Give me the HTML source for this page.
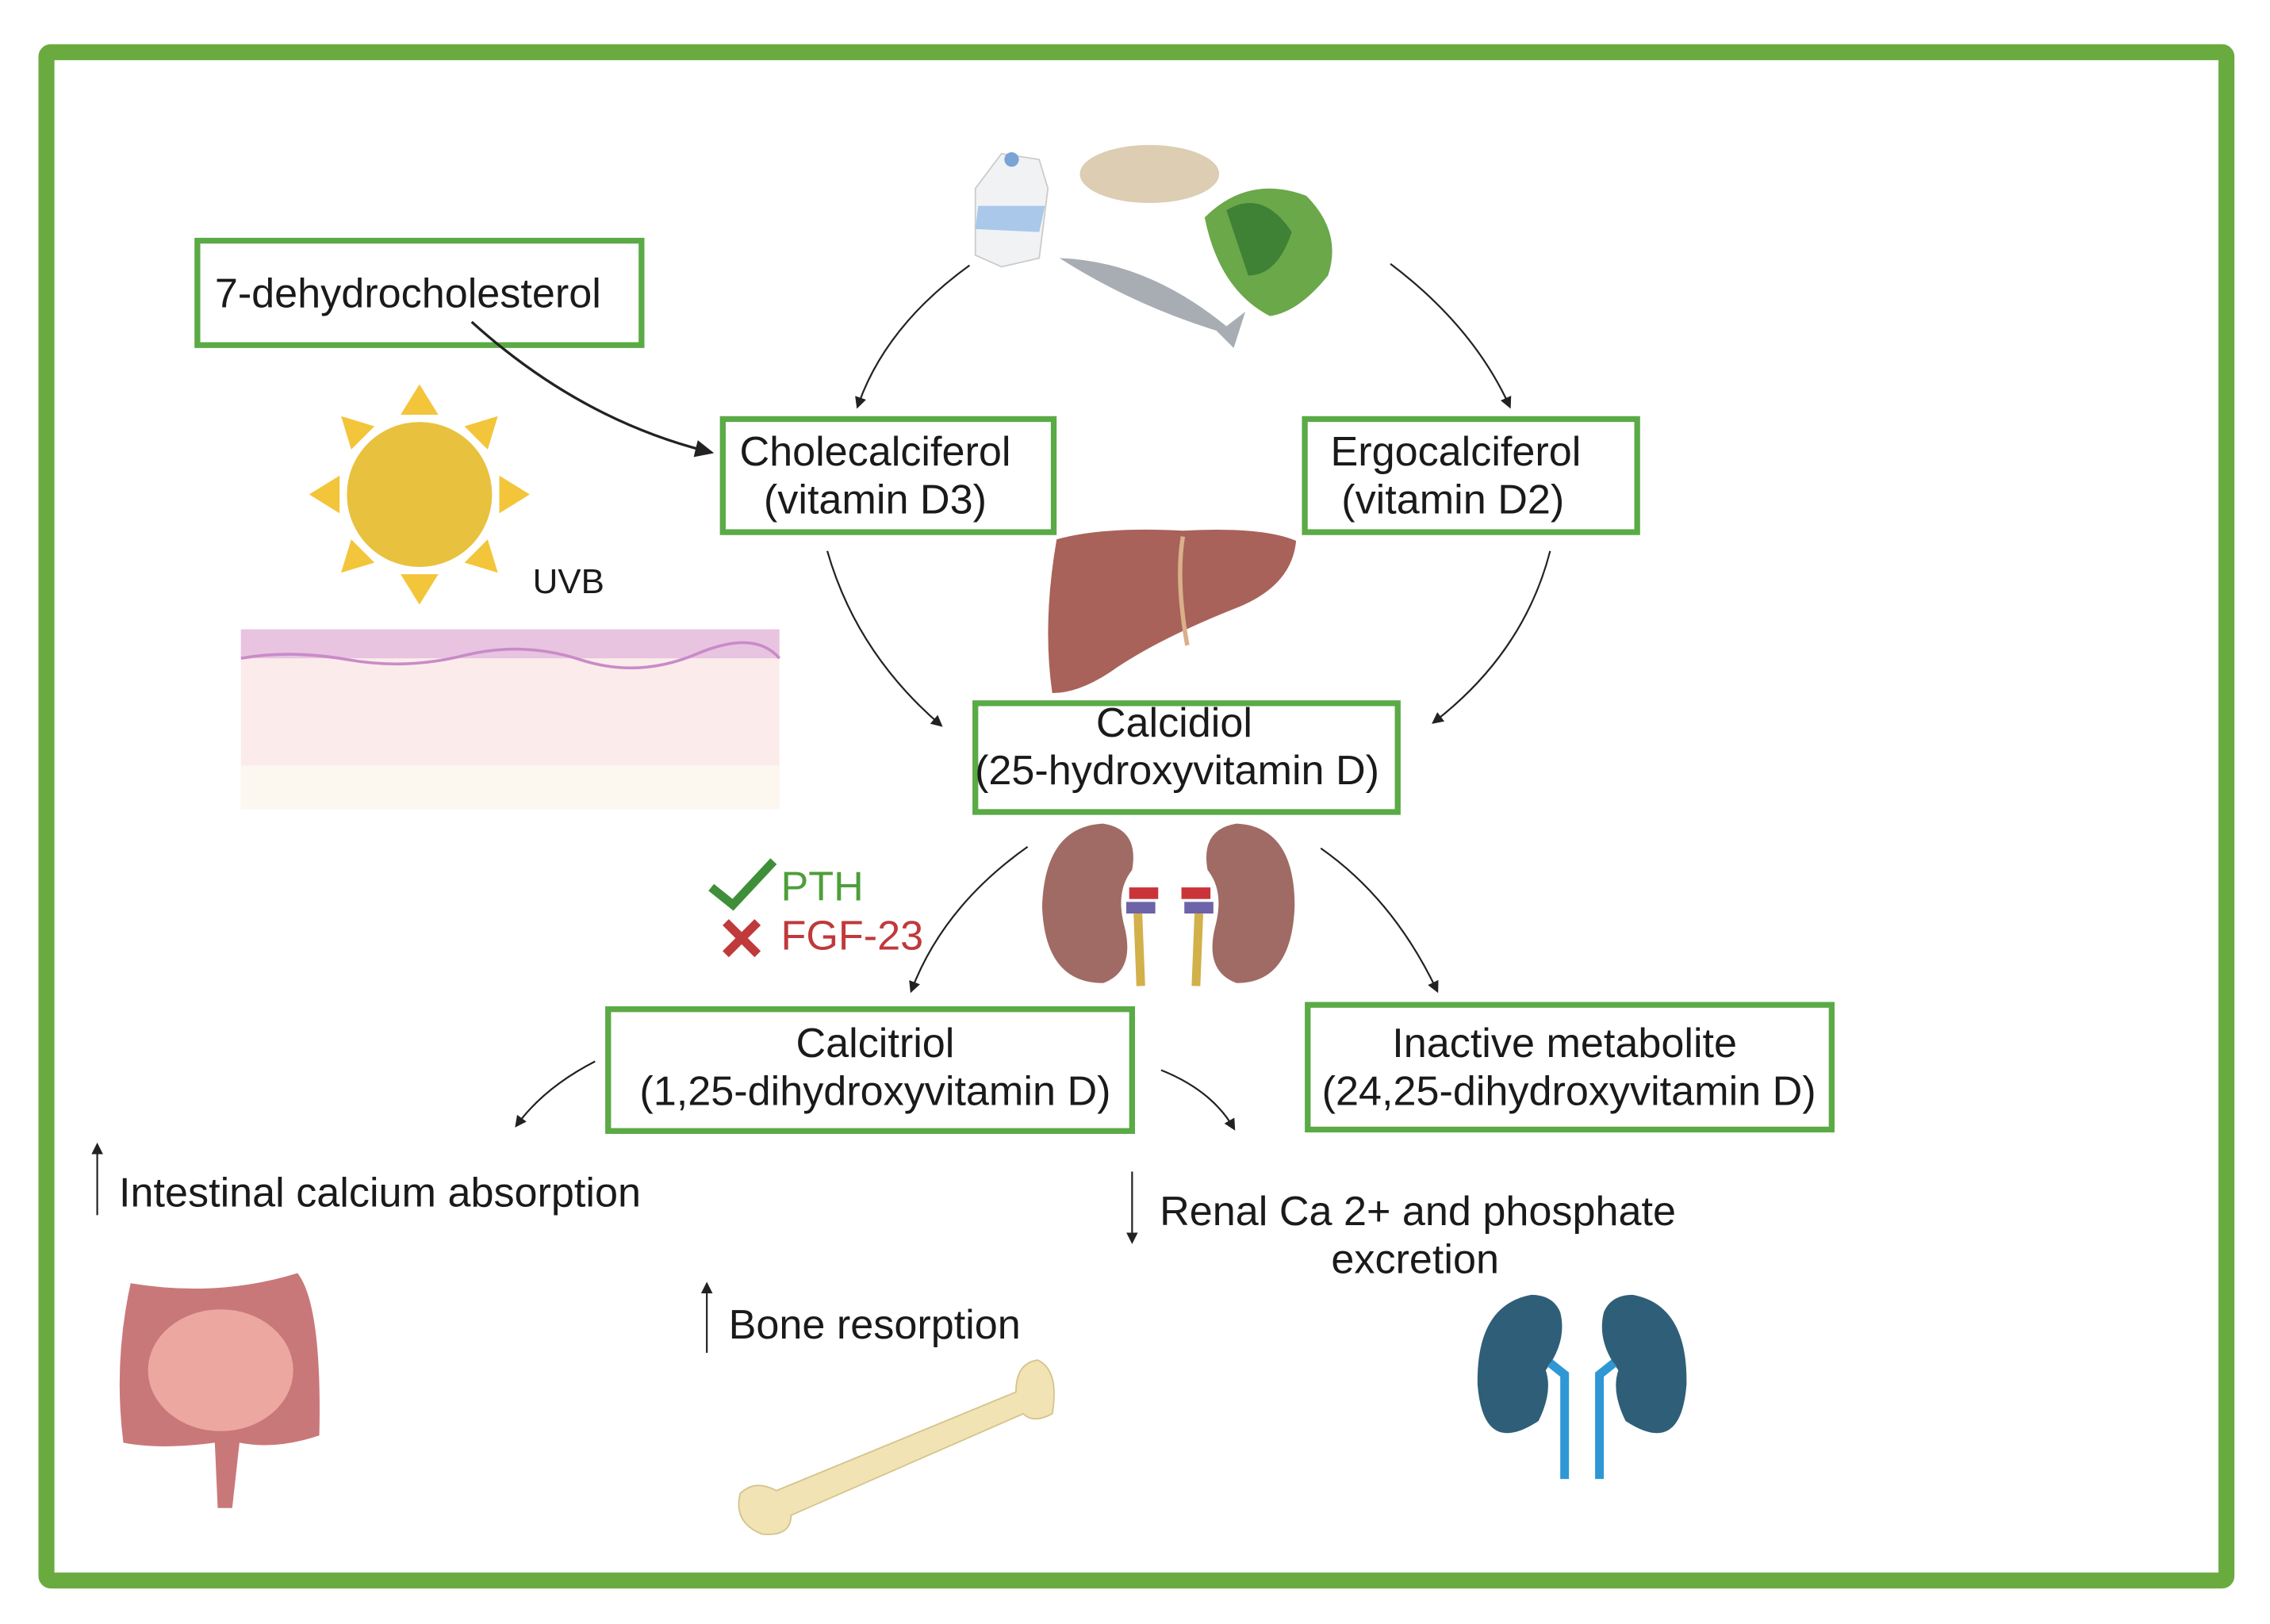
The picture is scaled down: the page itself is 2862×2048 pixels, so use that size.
<!DOCTYPE html>
<html><head><meta charset="utf-8"><style>
html,body{margin:0;padding:0;background:#fff;}
svg{display:block;}
text{font-family:"Liberation Sans",sans-serif;fill:#1a1a1a;}
</style></head><body>
<svg width="2862" height="2048" viewBox="0 0 1564 1120" preserveAspectRatio="none" xmlns="http://www.w3.org/2000/svg">
<defs>
<marker id="ah" markerWidth="8" markerHeight="8" refX="6" refY="4" orient="auto" markerUnits="userSpaceOnUse"><path d="M0,0 L8,4 L0,8 z" fill="#222"/></marker>
<marker id="ahb" markerWidth="14" markerHeight="12" refX="11" refY="6" orient="auto" markerUnits="userSpaceOnUse"><path d="M0,0 L13,6 L0,12 z" fill="#222"/></marker>
</defs>
<rect x="0" y="0" width="1564" height="1120" fill="#fff"/>
<rect x="32" y="36" width="1502" height="1054" fill="none" stroke="#6aab40" stroke-width="11" rx="3"/>

<g>
<polygon points="672,130 690,106 716,110 722,130 716,178 690,184 672,176" fill="#f0f2f4" stroke="#ccc"/>
<polygon points="674,142 720,142 716,160 672,158" fill="#a9c8ea"/>
<circle cx="697" cy="110" r="5" fill="#7aa3d6"/>
<ellipse cx="792" cy="120" rx="48" ry="20" fill="#dccdb3"/>
<path d="M730,178 Q790,180 845,225 L858,215 L850,240 L838,228 Q780,210 730,178z" fill="#a7adb3"/>
<path d="M830,150 Q860,120 900,135 Q925,160 915,190 Q895,215 875,218 Q840,200 830,150z" fill="#6aa84a"/>
<path d="M845,145 Q870,130 890,160 Q880,190 860,190z" fill="#3f8236"/>
</g>

<g fill="#fff" stroke="#5aaa46" stroke-width="4">
<rect x="136" y="166" width="306" height="72"/>
<rect x="498" y="289" width="228" height="78"/>
<rect x="899" y="289" width="229" height="78"/>
<rect x="672" y="485" width="291" height="75"/>
<rect x="419" y="696" width="361" height="84"/>
<rect x="901" y="693" width="361" height="86"/>
</g>
<g font-size="28.5">
<text x="148" y="212">7-dehydrocholesterol</text>
<text x="603" y="321" text-anchor="middle">Cholecalciferol</text>
<text x="603" y="354" text-anchor="middle">(vitamin D3)</text>
<text x="1003" y="321" text-anchor="middle">Ergocalciferol</text>
<text x="1001" y="354" text-anchor="middle">(vitamin D2)</text>
<text x="809" y="508" text-anchor="middle">Calcidiol</text>
<text x="811" y="541" text-anchor="middle">(25-hydroxyvitamin D)</text>
<text x="603" y="729" text-anchor="middle">Calcitriol</text>
<text x="603" y="762" text-anchor="middle">(1,25-dihydroxyvitamin D)</text>
<text x="1078" y="729" text-anchor="middle">Inactive metabolite</text>
<text x="1081" y="762" text-anchor="middle">(24,25-dihydroxyvitamin D)</text>
<text x="82" y="832">Intestinal calcium absorption</text>
<text x="502" y="923">Bone resorption</text>
<text x="799" y="845">Renal Ca 2+ and phosphate</text>
<text x="975" y="878" text-anchor="middle">excretion</text>
<text x="538" y="621" style="fill:#4e9e3a">PTH</text>
<text x="538" y="655" style="fill:#c0393b">FGF-23</text>
</g>
<text x="367" y="409" font-size="24">UVB</text>
<path d="M490,612 L505,624 L533,594" fill="none" stroke="#3f8f3a" stroke-width="6"/>
<path d="M500,636 L522,658 M522,636 L500,658" stroke="#c0393b" stroke-width="6"/>

<circle cx="289" cy="341" r="50" fill="#e8c23e"/>
<g fill="#f3c53a">
<polygon points="289,265 276,286 302,286"/><polygon points="289,417 276,396 302,396"/>
<polygon points="213,341 234,328 234,354"/><polygon points="365,341 344,328 344,354"/>
<polygon points="235,287 258,294 242,310"/><polygon points="343,287 320,294 336,310"/>
<polygon points="235,395 258,388 242,372"/><polygon points="343,395 320,388 336,372"/>
</g>
<rect x="166" y="434" width="371" height="124" fill="#fbeceb"/>
<rect x="166" y="434" width="371" height="20" fill="#e8c4e0"/>
<path d="M166,454 Q200,448 240,455 T320,452 T400,455 T480,451 T537,454" stroke="#c98bc8" fill="none" stroke-width="2"/>
<rect x="166" y="528" width="371" height="30" fill="#fcf7ef"/>

<path d="M728,372 Q760,363 815,366 Q870,363 893,373 Q890,405 850,420 Q800,440 770,460 Q745,478 725,478 Q718,430 728,372z" fill="#a8625a"/>
<path d="M815,370 Q810,400 818,445" stroke="#d9b08a" stroke-width="3" fill="none"/>

<path d="M760,568 Q720,570 718,625 Q720,678 760,678 Q782,670 775,640 Q768,615 780,600 Q785,572 760,568z" fill="#a06b65"/>
<path d="M852,568 Q892,570 892,625 Q890,678 852,678 Q830,670 837,640 Q844,615 832,600 Q827,572 852,568z" fill="#a06b65"/>
<rect x="778" y="612" width="20" height="8" fill="#c9343a"/><rect x="814" y="612" width="20" height="8" fill="#c9343a"/>
<rect x="776" y="622" width="20" height="8" fill="#6c63a8"/><rect x="816" y="622" width="20" height="8" fill="#6c63a8"/>
<path d="M784,630 L786,680 M826,630 L824,680" stroke="#d2b04a" stroke-width="6"/>

<path d="M90,885 Q150,895 205,878 Q222,900 220,990 Q190,1000 165,995 L160,1040 L150,1040 L148,995 Q110,1000 85,995 Q78,940 90,885z" fill="#c9787a"/>
<ellipse cx="152" cy="945" rx="50" ry="42" fill="#eca8a0"/>
<path d="M510,1030 Q520,1020 535,1028 L700,960 Q700,940 715,938 Q730,945 725,975 Q712,982 705,975 L545,1045 Q545,1060 525,1058 Q505,1050 510,1030z" fill="#f1e3b4" stroke="#d5c48c"/>
<path d="M1055,893 Q1017,900 1018,955 Q1022,1005 1060,980 Q1070,960 1065,945 Q1080,925 1075,905 Q1070,893 1055,893z" fill="#2f5f78"/>
<path d="M1125,893 Q1163,900 1162,955 Q1158,1005 1120,980 Q1110,960 1115,945 Q1100,925 1105,905 Q1110,893 1125,893z" fill="#2f5f78"/>
<path d="M1068,940 L1078,948 L1078,1020 M1112,940 L1102,948 L1102,1020" stroke="#2f97d4" stroke-width="6" fill="none"/>

<g fill="none" stroke="#222" stroke-width="1.2">
<path d="M325,222 Q400,290 490,312" stroke-width="1.8" marker-end="url(#ahb)"/>
<path d="M668,183 Q610,225 591,280" marker-end="url(#ah)"/>
<path d="M958,182 Q1015,225 1040,280" marker-end="url(#ah)"/>
<path d="M570,380 Q590,450 648,500" marker-end="url(#ah)"/>
<path d="M1068,380 Q1050,450 988,498" marker-end="url(#ah)"/>
<path d="M708,584 Q650,625 628,683" marker-end="url(#ah)"/>
<path d="M910,585 Q960,620 990,683" marker-end="url(#ah)"/>
<path d="M410,732 Q375,750 356,776" marker-end="url(#ah)"/>
<path d="M800,738 Q835,752 850,778" marker-end="url(#ah)"/>
<path d="M67,838 L67,790" marker-end="url(#ah)"/>
<path d="M487,933 L487,886" marker-end="url(#ah)"/>
<path d="M780,808 L780,856" marker-end="url(#ah)"/>
</g>
</svg>
</body></html>
